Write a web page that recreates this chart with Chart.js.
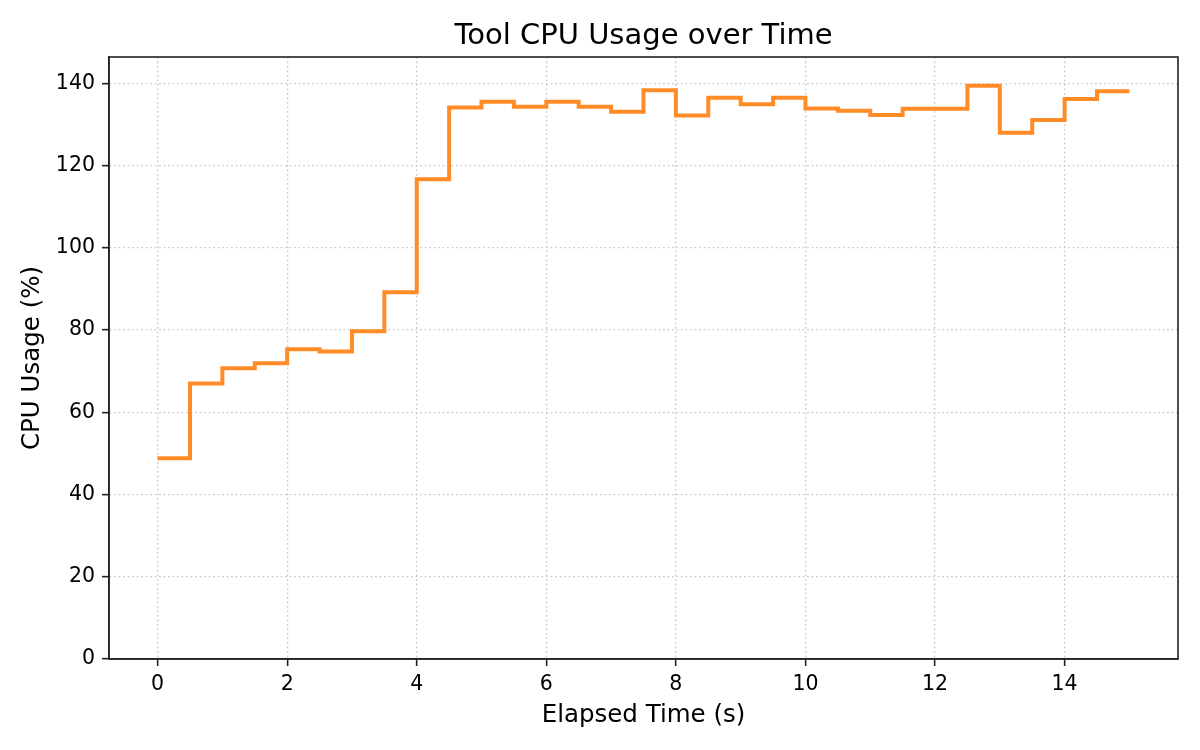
<!DOCTYPE html>
<html>
<head>
<meta charset="utf-8">
<script src="https://cdn.jsdelivr.net/npm/chart.js@4.4.1/dist/chart.umd.min.js"></script>
<style>
  html, body { margin: 0; padding: 0; background: #ffffff; }
  canvas { display: block; }
</style>
</head>
<body>
<canvas id="c" width="1200" height="750"></canvas>
<script>
// ---- Data ----
const elapsedTime = [0, 0.5, 1, 1.5, 2, 2.5, 3, 3.5, 4, 4.5, 5, 5.5, 6, 6.5, 7, 7.5,
                     8, 8.5, 9, 9.5, 10, 10.5, 11, 11.5, 12, 12.5, 13, 13.5, 14, 14.5, 15];
const cpuUsage = [48.8, 67.0, 70.7, 71.9, 75.3, 74.8, 79.7, 89.2, 116.7, 134.1, 135.5, 134.3,
                  135.5, 134.3, 133.1, 138.3, 132.2, 136.5, 134.9, 136.5, 133.9, 133.3, 132.3,
                  133.8, 133.8, 139.4, 128.0, 131.1, 136.2, 138.1, 138.1];
const xTicks = [0, 2, 4, 6, 8, 10, 12, 14];
const yTicks = [0, 20, 40, 60, 80, 100, 120, 140];
const chartTitle = 'Tool CPU Usage over Time';
const xLabel = 'Elapsed Time (s)';
const yLabel = 'CPU Usage (%)';

const FONT = "'DejaVu Sans', 'Liberation Sans', sans-serif";

const framePlugin = {
  id: 'frame',
  afterDatasetsDraw(chart) {
    const a = chart.chartArea, ctx = chart.ctx;
    ctx.save();
    ctx.strokeStyle = '#222222';
    ctx.lineWidth = 1.6;
    ctx.setLineDash([]);
    ctx.strokeRect(a.left, a.top, a.right - a.left, a.bottom - a.top);
    ctx.restore();
  }
};

const points = elapsedTime.map((x, i) => ({ x: x, y: cpuUsage[i] }));

const gridOpts = {
  color: '#c8c8c8',
  lineWidth: 1.3,
  drawTicks: true,
  tickLength: 7,
  tickColor: '#222222',
  tickWidth: 1.6,
  tickBorderDash: []
};
const borderOpts = { display: true, color: '#222222', width: 1.6, dash: [1.7, 2.8] };

new Chart(document.getElementById('c'), {
  type: 'line',
  data: {
    datasets: [{
      data: points,
      borderColor: '#ff8c26',
      borderWidth: 4,
      stepped: 'before',
      pointRadius: 0,
      fill: false,
      tension: 0
    }]
  },
  options: {
    responsive: false,
    animation: false,
    devicePixelRatio: 1,
    layout: { padding: { left: 0, right: 22, top: 0, bottom: 0 } },
    plugins: {
      legend: { display: false },
      tooltip: { enabled: false },
      title: {
        display: true,
        fullSize: false,
        text: chartTitle,
        color: '#000000',
        font: { family: FONT, size: 29, weight: 'normal', lineHeight: 1.2 },
        padding: { top: 19, bottom: 3.2 }
      }
    },
    scales: {
      x: {
        type: 'linear',
        min: -0.75,
        max: 15.75,
        afterFit(scale) { scale.height = 91; },
        afterBuildTicks(scale) { scale.ticks = xTicks.map(v => ({ value: v })); },
        ticks: {
          color: '#000000',
          font: { family: FONT, size: 20.5 },
          padding: 6,
          maxRotation: 0,
          autoSkip: false,
          callback: (v) => String(v)
        },
        grid: gridOpts,
        border: borderOpts,
        title: {
          display: true,
          text: xLabel,
          color: '#000000',
          font: { family: FONT, size: 24.5, lineHeight: 1.2 },
          padding: { top: 0, bottom: 20 }
        }
      },
      y: {
        type: 'linear',
        min: 0,
        max: 146.4,
        afterFit(scale) { scale.width = 109; },
        afterBuildTicks(scale) { scale.ticks = yTicks.map(v => ({ value: v })); },
        ticks: {
          color: '#000000',
          font: { family: FONT, size: 20.5 },
          padding: 7,
          autoSkip: false,
          callback: (v) => String(v)
        },
        grid: gridOpts,
        border: borderOpts,
        title: {
          display: true,
          text: yLabel,
          color: '#000000',
          font: { family: FONT, size: 24.5, lineHeight: 1.2 },
          padding: { top: 18, bottom: 0 }
        }
      }
    }
  },
  plugins: [framePlugin]
});
</script>
</body>
</html>
